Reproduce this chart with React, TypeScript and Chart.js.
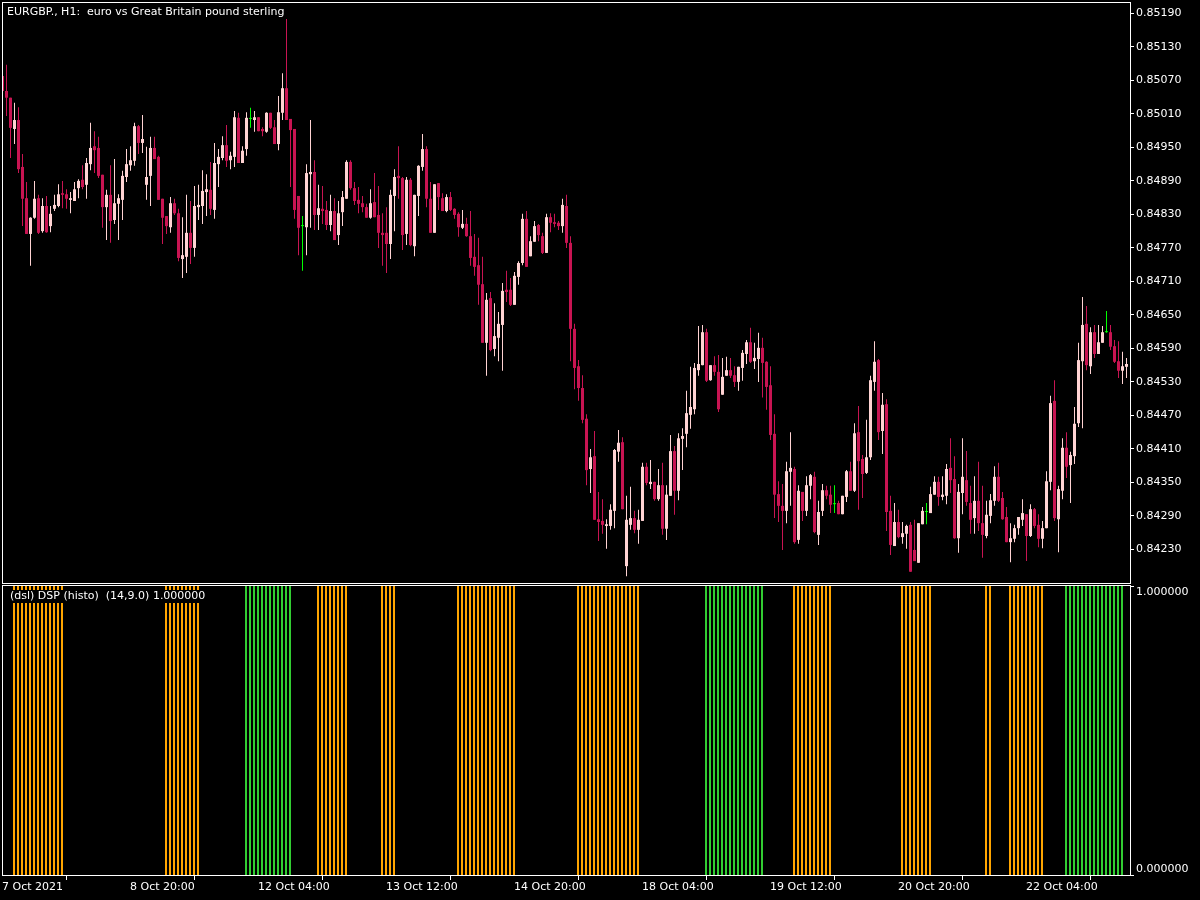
import React, { useEffect, useRef } from "react";
import { Chart, registerables } from "chart.js";

Chart.register(...registerables);

// ---------- texts ----------
const symbolTitle = "EURGBP., H1:  euro vs Great Britain pound sterling";
const indicatorTitle = "(dsl) DSP (histo)  (14,9.0) 1.000000";

// ---------- time axis ticks (bar index -> label) ----------
const timeTickIndex = [0, 32, 64, 96, 128, 160, 192, 224, 256];
const timeTickLabels = [
  "7 Oct 2021", "8 Oct 20:00", "12 Oct 04:00", "13 Oct 12:00", "14 Oct 20:00",
  "18 Oct 04:00", "19 Oct 12:00", "20 Oct 20:00", "22 Oct 04:00",
];

// ---------- price axis ----------
const priceTicks = [
  0.8519, 0.8513, 0.8507, 0.8501, 0.8495, 0.8489, 0.8483, 0.8477, 0.8471,
  0.8465, 0.8459, 0.8453, 0.8447, 0.8441, 0.8435, 0.8429, 0.8423,
];
const priceMin = 0.841698;
const priceMax = 0.852104;

// ---------- EURGBP H1 candles ----------
const openP = [
  0.85078,0.85051,0.85039,0.84983,0.84999,0.84915,0.84859,0.84795,0.84824,0.84859,
  0.84800,0.84845,0.84809,0.84840,0.84845,0.84868,0.84866,0.84856,0.84854,0.84877,
  0.84892,0.84883,0.84920,0.84952,0.84949,0.84901,0.84843,0.84865,0.84820,0.84849,
  0.84856,0.84897,0.84918,0.84926,0.84988,0.84958,0.84883,0.84899,0.84949,0.84933,
  0.84858,0.84827,0.84807,0.84850,0.84832,0.84750,0.84754,0.84797,0.84770,0.84843,
  0.84845,0.84870,0.84874,0.84838,0.84920,0.84931,0.84954,0.84927,0.84933,0.85003,
  0.84922,0.84947,0.85001,0.84999,0.85004,0.84983,0.84978,0.85012,0.84986,0.84956,
  0.85012,0.85056,0.85001,0.84983,0.84863,0.84809,0.84807,0.84902,0.84906,0.84829,
  0.84840,0.84838,0.84811,0.84836,0.84793,0.84834,0.84858,0.84924,0.84877,0.84856,
  0.84850,0.84843,0.84824,0.84852,0.84829,0.84797,0.84797,0.84777,0.84863,0.84899,
  0.84895,0.84795,0.84892,0.84773,0.84863,0.84915,0.84947,0.84858,0.84797,0.84886,
  0.84859,0.84836,0.84861,0.84840,0.84831,0.84806,0.84813,0.84791,0.84754,0.84739,
  0.84705,0.84600,0.84680,0.84589,0.84609,0.84632,0.84695,0.84695,0.84668,0.84718,
  0.84743,0.84822,0.84755,0.84781,0.84811,0.84791,0.84761,0.84825,0.84816,0.84815,
  0.84809,0.84845,0.84779,0.84625,0.84558,0.84519,0.84464,0.84374,0.84397,0.84284,
  0.84281,0.84272,0.84272,0.84299,0.84405,0.84422,0.84200,0.84274,0.84286,0.84265,
  0.84281,0.84378,0.84347,0.84351,0.84320,0.84345,0.84267,0.84326,0.84406,0.84335,
  0.84428,0.84437,0.84471,0.84481,0.84551,0.84560,0.84619,0.84533,0.84560,0.84548,
  0.84507,0.84541,0.84551,0.84542,0.84530,0.84555,0.84580,0.84601,0.84567,0.84571,
  0.84591,0.84566,0.84524,0.84437,0.84329,0.84308,0.84299,0.84369,0.84374,0.84247,
  0.84333,0.84299,0.84344,0.84360,0.84256,0.84299,0.84336,0.84328,0.84311,0.84313,
  0.84293,0.84324,0.84370,0.84335,0.84440,0.84392,0.84367,0.84395,0.84530,0.84569,
  0.84442,0.84490,0.84299,0.84236,0.84279,0.84252,0.84258,0.84274,0.84229,0.84206,
  0.84275,0.84297,0.84295,0.84328,0.84351,0.84324,0.84326,0.84376,0.84356,0.84250,
  0.84331,0.84354,0.84313,0.84286,0.84317,0.84277,0.84254,0.84290,0.84317,0.84360,
  0.84322,0.84288,0.84243,0.84249,0.84268,0.84283,0.84293,0.84254,0.84302,0.84274,
  0.84249,0.84268,0.84351,0.84496,0.84284,0.84335,0.84412,0.84381,0.84397,0.84456,
  0.84567,0.84634,0.84558,0.84619,0.84580,0.84600,0.84619,0.84619,0.84594,0.84567,
  0.84550,0.84557,
];
const highP = [
  0.85081,0.85098,0.85039,0.85030,0.85022,0.84938,0.84888,0.84825,0.84890,0.84865,
  0.84859,0.84863,0.84845,0.84865,0.84884,0.84890,0.84875,0.84870,0.84888,0.84893,
  0.84918,0.84931,0.84994,0.84979,0.84969,0.84901,0.84874,0.84918,0.84929,0.84866,
  0.84908,0.84947,0.84952,0.84994,0.84990,0.85008,0.84951,0.84969,0.84969,0.84935,
  0.84858,0.84827,0.84861,0.84858,0.84840,0.84825,0.84865,0.84854,0.84881,0.84883,
  0.84909,0.84902,0.84924,0.84958,0.84947,0.84970,0.84990,0.84942,0.85015,0.85012,
  0.84952,0.85013,0.85021,0.85015,0.85004,0.84986,0.85013,0.85012,0.84999,0.85042,
  0.85083,0.85180,0.85001,0.84983,0.84863,0.84827,0.84920,0.84999,0.84927,0.84883,
  0.84881,0.84854,0.84865,0.84859,0.84854,0.84872,0.84927,0.84927,0.84888,0.84879,
  0.84863,0.84849,0.84875,0.84904,0.84881,0.84832,0.84843,0.84874,0.84911,0.84952,
  0.84897,0.84897,0.84895,0.84865,0.84918,0.84974,0.84952,0.84888,0.84884,0.84886,
  0.84868,0.84866,0.84870,0.84841,0.84834,0.84838,0.84824,0.84836,0.84795,0.84788,
  0.84754,0.84689,0.84691,0.84671,0.84655,0.84707,0.84729,0.84716,0.84727,0.84746,
  0.84831,0.84836,0.84791,0.84818,0.84813,0.84797,0.84831,0.84832,0.84831,0.84818,
  0.84858,0.84865,0.84791,0.84634,0.84569,0.84542,0.84472,0.84410,0.84442,0.84333,
  0.84320,0.84284,0.84311,0.84410,0.84444,0.84431,0.84326,0.84342,0.84299,0.84301,
  0.84385,0.84385,0.84390,0.84351,0.84374,0.84385,0.84345,0.84435,0.84415,0.84438,
  0.84447,0.84514,0.84557,0.84564,0.84630,0.84632,0.84625,0.84560,0.84576,0.84578,
  0.84573,0.84575,0.84573,0.84558,0.84557,0.84587,0.84605,0.84627,0.84600,0.84618,
  0.84609,0.84567,0.84558,0.84472,0.84352,0.84347,0.84387,0.84440,0.84378,0.84345,
  0.84333,0.84361,0.84365,0.84369,0.84317,0.84347,0.84344,0.84344,0.84345,0.84317,
  0.84326,0.84372,0.84387,0.84456,0.84487,0.84399,0.84462,0.84541,0.84603,0.84571,
  0.84510,0.84499,0.84326,0.84313,0.84301,0.84279,0.84274,0.84279,0.84283,0.84277,
  0.84306,0.84313,0.84342,0.84361,0.84360,0.84361,0.84383,0.84429,0.84397,0.84347,
  0.84429,0.84406,0.84344,0.84361,0.84387,0.84344,0.84317,0.84329,0.84379,0.84385,
  0.84333,0.84306,0.84277,0.84274,0.84288,0.84320,0.84293,0.84311,0.84304,0.84293,
  0.84281,0.84370,0.84505,0.84533,0.84344,0.84429,0.84440,0.84405,0.84485,0.84600,
  0.84682,0.84666,0.84628,0.84632,0.84632,0.84630,0.84657,0.84632,0.84605,0.84603,
  0.84584,0.84573,
];
const lowP = [
  0.85049,0.85006,0.84931,0.84956,0.84904,0.84809,0.84795,0.84738,0.84822,0.84795,
  0.84797,0.84797,0.84798,0.84836,0.84843,0.84841,0.84840,0.84832,0.84854,0.84859,
  0.84875,0.84858,0.84909,0.84904,0.84895,0.84806,0.84784,0.84779,0.84813,0.84784,
  0.84820,0.84888,0.84908,0.84917,0.84938,0.84940,0.84856,0.84845,0.84929,0.84856,
  0.84777,0.84795,0.84797,0.84829,0.84746,0.84716,0.84725,0.84741,0.84754,0.84820,
  0.84813,0.84827,0.84829,0.84822,0.84879,0.84927,0.84915,0.84911,0.84915,0.84922,
  0.84922,0.84935,0.84985,0.84978,0.84979,0.84970,0.84976,0.84983,0.84956,0.84945,
  0.84999,0.84999,0.84879,0.84822,0.84757,0.84729,0.84757,0.84806,0.84802,0.84802,
  0.84813,0.84802,0.84800,0.84784,0.84775,0.84809,0.84858,0.84874,0.84847,0.84832,
  0.84834,0.84824,0.84822,0.84825,0.84770,0.84738,0.84725,0.84750,0.84800,0.84858,
  0.84766,0.84775,0.84773,0.84755,0.84827,0.84908,0.84843,0.84797,0.84797,0.84838,
  0.84836,0.84834,0.84836,0.84822,0.84790,0.84804,0.84790,0.84738,0.84720,0.84668,
  0.84600,0.84541,0.84585,0.84576,0.84567,0.84550,0.84673,0.84666,0.84668,0.84704,
  0.84739,0.84736,0.84755,0.84781,0.84782,0.84759,0.84761,0.84798,0.84807,0.84802,
  0.84797,0.84770,0.84567,0.84517,0.84496,0.84456,0.84345,0.84331,0.84283,0.84245,
  0.84258,0.84231,0.84265,0.84268,0.84387,0.84302,0.84182,0.84265,0.84259,0.84240,
  0.84281,0.84345,0.84338,0.84317,0.84317,0.84256,0.84247,0.84326,0.84292,0.84318,
  0.84372,0.84413,0.84446,0.84472,0.84541,0.84560,0.84530,0.84532,0.84541,0.84476,
  0.84507,0.84541,0.84537,0.84521,0.84514,0.84532,0.84562,0.84564,0.84553,0.84530,
  0.84502,0.84480,0.84426,0.84286,0.84279,0.84229,0.84277,0.84308,0.84240,0.84240,
  0.84281,0.84290,0.84320,0.84259,0.84238,0.84290,0.84320,0.84295,0.84295,0.84293,
  0.84293,0.84315,0.84335,0.84333,0.84301,0.84322,0.84365,0.84390,0.84514,0.84426,
  0.84401,0.84263,0.84220,0.84236,0.84250,0.84240,0.84231,0.84190,0.84209,0.84206,
  0.84275,0.84275,0.84295,0.84328,0.84308,0.84318,0.84311,0.84331,0.84249,0.84224,
  0.84293,0.84308,0.84258,0.84258,0.84263,0.84215,0.84250,0.84277,0.84308,0.84315,
  0.84283,0.84243,0.84207,0.84243,0.84256,0.84272,0.84209,0.84252,0.84268,0.84234,
  0.84232,0.84268,0.84336,0.84281,0.84225,0.84320,0.84358,0.84313,0.84383,0.84449,
  0.84447,0.84551,0.84544,0.84573,0.84580,0.84600,0.84618,0.84587,0.84564,0.84537,
  0.84526,0.84537,
];
const closeP = [
  0.85051,0.85039,0.84985,0.84999,0.84911,0.84858,0.84795,0.84824,0.84858,0.84797,
  0.84845,0.84798,0.84831,0.84847,0.84866,0.84865,0.84858,0.84859,0.84875,0.84890,
  0.84879,0.84922,0.84949,0.84945,0.84899,0.84843,0.84865,0.84818,0.84850,0.84859,
  0.84899,0.84920,0.84927,0.84988,0.84958,0.84965,0.84897,0.84949,0.84929,0.84856,
  0.84824,0.84809,0.84850,0.84832,0.84752,0.84757,0.84797,0.84770,0.84845,0.84847,
  0.84872,0.84875,0.84840,0.84922,0.84933,0.84954,0.84926,0.84935,0.85004,0.84922,
  0.84944,0.85003,0.85001,0.85004,0.84979,0.84979,0.85012,0.84985,0.84956,0.85013,
  0.85056,0.84999,0.84981,0.84838,0.84806,0.84809,0.84904,0.84906,0.84829,0.84841,
  0.84836,0.84811,0.84836,0.84784,0.84832,0.84861,0.84924,0.84877,0.84854,0.84849,
  0.84843,0.84824,0.84850,0.84825,0.84797,0.84793,0.84777,0.84865,0.84897,0.84895,
  0.84793,0.84892,0.84775,0.84865,0.84917,0.84947,0.84858,0.84797,0.84884,0.84861,
  0.84836,0.84861,0.84838,0.84829,0.84807,0.84813,0.84791,0.84752,0.84736,0.84704,
  0.84600,0.84677,0.84587,0.84612,0.84634,0.84693,0.84691,0.84668,0.84720,0.84743,
  0.84822,0.84736,0.84782,0.84809,0.84793,0.84761,0.84825,0.84815,0.84813,0.84809,
  0.84847,0.84779,0.84625,0.84555,0.84519,0.84462,0.84372,0.84395,0.84283,0.84279,
  0.84274,0.84275,0.84301,0.84408,0.84421,0.84302,0.84283,0.84286,0.84265,0.84283,
  0.84378,0.84349,0.84351,0.84320,0.84345,0.84267,0.84328,0.84406,0.84335,0.84429,
  0.84433,0.84474,0.84485,0.84555,0.84562,0.84619,0.84532,0.84560,0.84548,0.84481,
  0.84539,0.84551,0.84541,0.84530,0.84557,0.84582,0.84601,0.84566,0.84573,0.84591,
  0.84564,0.84521,0.84435,0.84328,0.84308,0.84299,0.84370,0.84376,0.84243,0.84335,
  0.84299,0.84345,0.84363,0.84261,0.84297,0.84336,0.84326,0.84310,0.84311,0.84293,
  0.84326,0.84370,0.84335,0.84438,0.84388,0.84365,0.84395,0.84533,0.84566,0.84440,
  0.84489,0.84297,0.84238,0.84279,0.84252,0.84259,0.84272,0.84190,0.84209,0.84277,
  0.84299,0.84297,0.84329,0.84351,0.84324,0.84328,0.84374,0.84354,0.84250,0.84333,
  0.84360,0.84315,0.84283,0.84317,0.84277,0.84256,0.84292,0.84318,0.84360,0.84317,
  0.84284,0.84243,0.84250,0.84268,0.84288,0.84295,0.84254,0.84302,0.84272,0.84249,
  0.84268,0.84352,0.84492,0.84286,0.84338,0.84412,0.84378,0.84399,0.84455,0.84569,
  0.84632,0.84560,0.84619,0.84580,0.84601,0.84619,0.84619,0.84593,0.84566,0.84550,
  0.84558,0.84562,
];

// ---------- DSP histogram: runs of [state, count]; 0 = none, -1 = down (orange), 1 = up (green) ----------
const histoRuns: [number, number][] = [
  [0, 3], [-1, 13], [0, 25], [-1, 9], [0, 11], [1, 12], [0, 6], [-1, 8], [0, 8], [-1, 4],
  [0, 15], [-1, 15], [0, 15], [-1, 16], [0, 16], [1, 15], [0, 7], [-1, 10], [0, 17], [-1, 8],
  [0, 13], [-1, 2], [0, 4], [-1, 9], [0, 5], [1, 15], [0, 1],
];
const histoValue = 1;
const histoTicks = [1, 0];

// ---------- styles ----------
const FONT_FAMILY = "DejaVu Sans";
const FONT = `11px "${FONT_FAMILY}"`;
const BEAR = "#C81452";
const BULL = "#FFD3D3";
const DOJI = "#00FF00";
const HISTO_DOWN = "#FFA500";
const HISTO_UP = "#32CD32";
const AXIS_COLOR = "#FFFFFF";

export default function App() {
  const topRef = useRef<HTMLCanvasElement | null>(null);
  const botRef = useRef<HTMLCanvasElement | null>(null);

  useEffect(() => {
    const n = closeP.length;
    const idx = Array.from({ length: n }, (_, i) => i);
    const candleColor = idx.map((i) =>
      closeP[i] > openP[i] ? BULL : closeP[i] < openP[i] ? BEAR : DOJI
    );
    const wickData = idx.map((i) => ({ x: i, y: [lowP[i], highP[i]] }));
    const bodyData = idx.map((i) => ({ x: i, y: [openP[i], closeP[i]] }));

    const histoState: number[] = [];
    histoRuns.forEach(([s, c]) => {
      for (let k = 0; k < c; k++) histoState.push(s);
    });
    const histoData = histoState.map((s, i) => ({ x: i, y: s === 0 ? null : histoValue }));
    const histoColors = histoState.map((s) => (s > 0 ? HISTO_UP : HISTO_DOWN));

    const topPanePlugin = {
      id: "topPane",
      afterDraw(chart: any) {
        const { ctx, chartArea: a } = chart;
        ctx.save();
        ctx.strokeStyle = AXIS_COLOR;
        ctx.lineWidth = 1;
        ctx.strokeRect(a.left + 0.5, a.top + 0.5, a.right - a.left, a.bottom - a.top);
        ctx.font = FONT;
        const w = ctx.measureText(symbolTitle).width;
        ctx.fillStyle = "#000";
        ctx.fillRect(6, 6, w + 2, 13);
        ctx.fillStyle = "#FFFFFF";
        ctx.textBaseline = "middle";
        ctx.textAlign = "left";
        ctx.fillText(symbolTitle, 7, 12.5);
        ctx.restore();
      },
    };

    const botPanePlugin = {
      id: "botPane",
      afterDraw(chart: any) {
        const { ctx, chartArea: a, scales } = chart;
        ctx.save();
        ctx.strokeStyle = AXIS_COLOR;
        ctx.lineWidth = 1;
        ctx.strokeRect(a.left + 0.5, a.top - 0.5, a.right - a.left, a.bottom - a.top);
        ctx.font = FONT;
        ctx.fillStyle = "#FFFFFF";
        ctx.textAlign = "left";
        histoTicks.forEach((v) => {
          const py = scales.y.getPixelForValue(v);
          const row = v === histoTicks[0] ? Math.round(py) : Math.round(py) - 1;
          ctx.beginPath();
          ctx.moveTo(a.right, row + 0.5);
          ctx.lineTo(a.right + 4, row + 0.5);
          ctx.stroke();
          ctx.textBaseline = v === histoTicks[0] ? "top" : "bottom";
          ctx.fillText(v.toFixed(6), a.right + 6, v === histoTicks[0] ? py + 1 : py - 1);
        });
        const w = ctx.measureText(indicatorTitle).width;
        ctx.fillStyle = "#000";
        ctx.fillRect(9, a.top + 4, w + 2, 13);
        ctx.fillStyle = "#FFFFFF";
        ctx.textBaseline = "middle";
        ctx.fillText(indicatorTitle, 10, a.top + 10.5);
        ctx.restore();
      },
    };

    const fontOpt = { family: FONT_FAMILY, size: 11 };

    const top = new Chart(topRef.current as HTMLCanvasElement, {
      type: "bar",
      data: {
        datasets: [
          {
            data: wickData as any,
            backgroundColor: candleColor,
            barThickness: 1,
            grouped: false,
            inflateAmount: 0,
            borderWidth: 0,
            clip: 0,
            order: 2,
          } as any,
          {
            data: bodyData as any,
            backgroundColor: candleColor,
            barThickness: 3,
            grouped: false,
            inflateAmount: 0,
            borderWidth: 0,
            minBarLength: 1,
            clip: 0,
            order: 1,
          } as any,
        ],
      },
      options: {
        animation: false,
        responsive: false,
        maintainAspectRatio: false,
        devicePixelRatio: 1,
        events: [],
        layout: { padding: { left: 2, top: 2, right: 0, bottom: 1 } },
        plugins: { legend: { display: false }, tooltip: { enabled: false } },
        scales: {
          x: { type: "linear", display: false, min: -0.125, max: 281.875, offset: false },
          y: {
            type: "linear",
            position: "right",
            min: priceMin,
            max: priceMax,
            border: { display: false },
            grid: { drawOnChartArea: false, drawTicks: true, tickLength: 4, color: AXIS_COLOR },
            ticks: {
              color: "#FFFFFF",
              font: fontOpt,
              padding: 2,
              autoSkip: false,
              callback: (v: any) => Number(v).toFixed(5),
            },
            afterBuildTicks: (s: any) => {
              s.ticks = priceTicks.map((v) => ({ value: v }));
            },
            afterFit: (s: any) => {
              s.width = 70;
              s.paddingTop = 0;
              s.paddingBottom = 0;
            },
          },
        },
      } as any,
      plugins: [topPanePlugin],
    });

    const bot = new Chart(botRef.current as HTMLCanvasElement, {
      type: "bar",
      data: {
        datasets: [
          {
            data: histoData as any,
            backgroundColor: histoColors,
            barThickness: 2,
            grouped: false,
            inflateAmount: 0,
            borderWidth: 0,
            clip: 0,
          } as any,
        ],
      },
      options: {
        animation: false,
        responsive: false,
        maintainAspectRatio: false,
        devicePixelRatio: 1,
        events: [],
        layout: { padding: { left: 2, top: 2, right: 70, bottom: 0 } },
        plugins: { legend: { display: false }, tooltip: { enabled: false } },
        scales: {
          x: {
            type: "linear",
            min: 0,
            max: 282,
            offset: false,
            border: { display: false },
            grid: { drawOnChartArea: false, drawTicks: true, tickLength: 4, color: AXIS_COLOR },
            ticks: {
              color: "#FFFFFF",
              font: fontOpt,
              padding: 1,
              align: "start",
              maxRotation: 0,
              autoSkip: false,
              callback: (_v: any, i: number) => timeTickLabels[i],
            },
            afterBuildTicks: (s: any) => {
              s.ticks = timeTickIndex.map((v) => ({ value: v }));
            },
            afterFit: (s: any) => {
              s.height = 24;
              s.paddingLeft = 0;
              s.paddingRight = 0;
            },
          },
          y: { type: "linear", display: false, min: 0, max: 1 },
        },
      } as any,
      plugins: [botPanePlugin],
    });

    return () => {
      top.destroy();
      bot.destroy();
    };
  }, []);

  return (
    <div
      style={{
        position: "fixed",
        left: 0,
        top: 0,
        width: 1200,
        height: 900,
        background: "#000",
        overflow: "hidden",
      }}
    >
      <canvas
        ref={topRef}
        width={1200}
        height={584}
        style={{ position: "absolute", left: 0, top: 0, width: 1200, height: 584 }}
      />
      <canvas
        ref={botRef}
        width={1200}
        height={316}
        style={{ position: "absolute", left: 0, top: 584, width: 1200, height: 316 }}
      />
    </div>
  );
}
